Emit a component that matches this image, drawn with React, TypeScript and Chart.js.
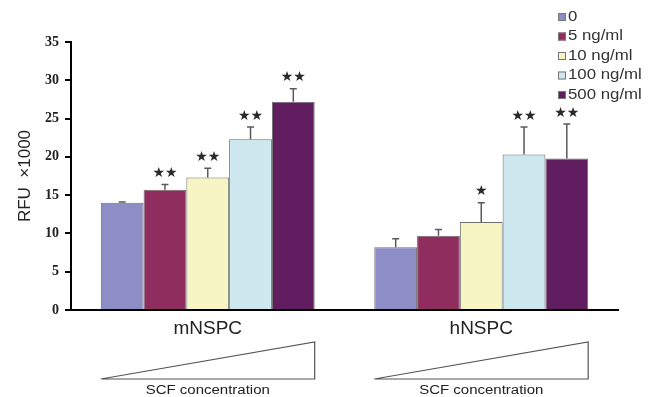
import React, { useEffect, useRef } from "react";
import { Chart, registerables } from "chart.js";

Chart.register(...registerables);

// ---- data ----
const categories = ["mNSPC", "hNSPC"];
const seriesLabels = ["0", "5 ng/ml", "10 ng/ml", "100 ng/ml", "500 ng/ml"];
const seriesColors = ["#8E8EC6", "#8E2D5E", "#F8F5C4", "#CDE8EE", "#601E60"];

const values0 = [14.0, 8.2];
const values5 = [15.7, 9.7];
const values10 = [17.3, 11.5];
const values100 = [22.3, 20.3];
const values500 = [27.2, 19.8];

const errors0 = [0.1, 1.1];
const errors5 = [0.7, 0.8];
const errors10 = [1.2, 2.5];
const errors100 = [1.6, 3.6];
const errors500 = [1.7, 4.5];

const stars0 = ["", ""];
const stars5 = ["★★", ""];
const stars10 = ["★★", "★"];
const stars100 = ["★★", "★★"];
const stars500 = ["★★", "★★"];

const yMin = 0;
const yMax = 35;
const yStep = 5;
const yTitle = "RFU  ×1000";
const groupCaption = "SCF concentration";

const allValues = [values0, values5, values10, values100, values500];
const allErrors = [errors0, errors5, errors10, errors100, errors500];
const allStars = [stars0, stars5, stars10, stars100, stars500];

const SANS = "'Liberation Sans', Arial, sans-serif";
const SERIF = "'Liberation Serif', 'Times New Roman', serif";

const errorBarPlugin = {
  id: "errorBars",
  afterDatasetsDraw(chart: any) {
    const ctx = chart.ctx;
    const y = chart.scales.y;
    ctx.save();
    chart.data.datasets.forEach((ds: any, i: number) => {
      const meta = chart.getDatasetMeta(i);
      meta.data.forEach((bar: any, j: number) => {
        const v = allValues[i][j];
        const e = allErrors[i][j];
        const yv = y.getPixelForValue(v);
        const ye = y.getPixelForValue(v + e);
        ctx.strokeStyle = "#5a5a5a";
        ctx.lineWidth = 1.5;
        ctx.beginPath();
        ctx.moveTo(bar.x, yv);
        ctx.lineTo(bar.x, ye);
        ctx.moveTo(bar.x - 3.5, ye);
        ctx.lineTo(bar.x + 3.5, ye);
        ctx.stroke();
        const s = allStars[i][j];
        if (s) {
          ctx.fillStyle = "#2a2a2a";
          ctx.font = "14px 'DejaVu Sans', sans-serif";
          ctx.textAlign = "center";
          ctx.textBaseline = "middle";
          ctx.fillText(s, bar.x, ye - 11);
        }
      });
    });
    ctx.restore();
  },
};

const decorPlugin = {
  id: "decor",
  afterDraw(chart: any) {
    const ctx = chart.ctx;
    const area = chart.chartArea;
    const n = chart.data.datasets.length;
    ctx.save();
    // concentration triangles under each group
    categories.forEach((_c, j) => {
      const first = chart.getDatasetMeta(0).data[j];
      const last = chart.getDatasetMeta(n - 1).data[j];
      const left = first.x - first.width / 2;
      const right = last.x + last.width / 2;
      const base = area.bottom + 69;
      const top = area.bottom + 32;
      ctx.strokeStyle = "#555";
      ctx.lineWidth = 1.2;
      ctx.beginPath();
      ctx.moveTo(left, base);
      ctx.lineTo(right, base);
      ctx.lineTo(right, top);
      ctx.closePath();
      ctx.stroke();
      ctx.save();
      ctx.translate((left + right) / 2, area.bottom + 81);
      ctx.scale(1.2, 1);
      ctx.fillStyle = "#222";
      ctx.font = `12.5px ${SANS}`;
      ctx.textAlign = "center";
      ctx.textBaseline = "middle";
      ctx.fillText(groupCaption, 0, 0);
      ctx.restore();
    });
    // legend
    const lx = 558;
    const ly0 = 17;
    const step = 19.5;
    seriesLabels.forEach((lab, i) => {
      const cy = ly0 + i * step;
      ctx.fillStyle = seriesColors[i];
      ctx.fillRect(lx, cy - 4, 8, 8);
      ctx.strokeStyle = "#777";
      ctx.lineWidth = 1;
      ctx.strokeRect(lx + 0.5, cy - 3.5, 7, 7);
      ctx.save();
      ctx.translate(lx + 10, cy);
      ctx.scale(1.2, 1);
      ctx.fillStyle = "#333";
      ctx.font = `14px ${SANS}`;
      ctx.textAlign = "left";
      ctx.textBaseline = "middle";
      ctx.fillText(lab, 0, 0);
      ctx.restore();
    });
    ctx.restore();
  },
};

const whiteBg = {
  id: "whiteBg",
  beforeDraw(chart: any) {
    const ctx = chart.ctx;
    ctx.save();
    ctx.fillStyle = "#fff";
    ctx.fillRect(0, 0, chart.width, chart.height);
    ctx.restore();
  },
};

export default function App() {
  const ref = useRef<HTMLCanvasElement>(null);
  useEffect(() => {
    if (!ref.current) return;
    const chart = new Chart(ref.current, {
      type: "bar",
      data: {
        labels: categories,
        datasets: seriesLabels.map((lab, i) => ({
          label: lab,
          data: allValues[i],
          backgroundColor: seriesColors[i],
          borderColor: "#6e6e6e",
          borderWidth: 1,
          borderSkipped: "bottom",
          categoryPercentage: 0.782,
          barPercentage: 1.0,
        })),
      },
      options: {
        responsive: false,
        animation: false,
        devicePixelRatio: 1,
        layout: { padding: { top: 42, right: 42, left: 0, bottom: 0 } },
        plugins: {
          legend: { display: false },
          tooltip: { enabled: false },
        },
        scales: {
          x: {
            grid: { display: false, drawTicks: false },
            border: { display: true, color: "#000", width: 2 },
            ticks: {
              color: "#222",
              font: { family: SANS, size: 19 },
              padding: 7,
              maxRotation: 0,
            },
            afterFit(scale: any) {
              scale.height = 87;
            },
          },
          y: {
            min: yMin,
            max: yMax,
            grid: {
              drawOnChartArea: false,
              drawTicks: true,
              tickLength: 6,
              color: "#000",
              lineWidth: 2,
            },
            border: { display: true, color: "#000", width: 2 },
            ticks: {
              stepSize: yStep,
              color: "#222",
              padding: 6,
              font: { family: SERIF, size: 14, weight: "bold" },
            },
            title: {
              display: true,
              text: yTitle,
              color: "#222",
              font: { family: SANS, size: 17 },
              padding: { top: 15, bottom: 0 },
            },
            afterFit(scale: any) {
              scale.width = 71;
            },
          },
        },
      },
      plugins: [whiteBg, errorBarPlugin, decorPlugin],
    } as any);
    return () => chart.destroy();
  }, []);
  return (
    <div style={{ position: "absolute", left: 0, top: 0, width: 660, height: 397 }}>
      <canvas ref={ref} width={660} height={397} style={{ display: "block" }} />
    </div>
  );
}
